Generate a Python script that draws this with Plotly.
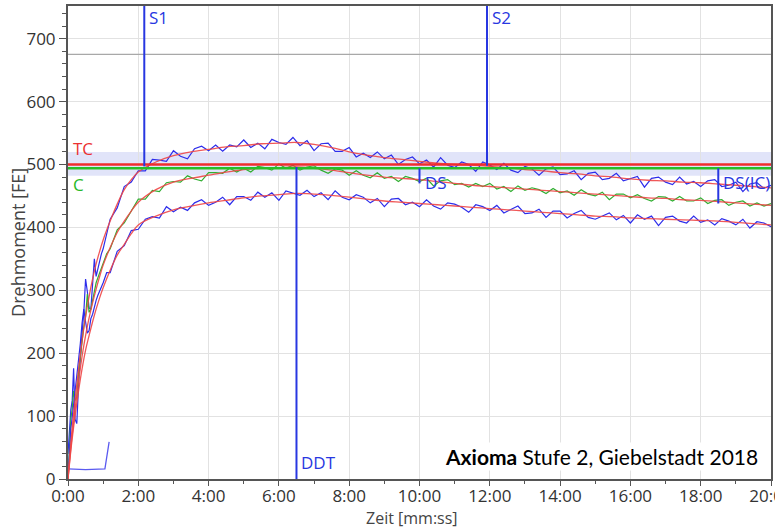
import plotly.graph_objects as go

# ---------------- data (minutes / FE) ----------------
t_early = [0, 0.04, 0.08, 0.12, 0.16, 0.2, 0.25, 0.3, 0.35, 0.4, 0.45, 0.5,
           0.55, 0.6, 0.65, 0.7, 0.75, 0.8, 0.85, 0.9, 0.95, 1.0, 1.1]
t_main = [round(1.2 + 0.2 * i, 1) for i in range(95)]          # 1.2 ... 20.0
t_noisy = t_early + t_main

upper_early = [40, 75, 110, 125, 176, 95, 88, 150, 200, 232, 265, 318,
               298, 272, 270, 308, 350, 322, 335, 346, 358, 366, 390]
upper_main = [413, 431, 465, 472, 490, 490, 508, 507, 505, 522,
              513, 509, 525, 529, 522, 531, 521, 531, 528, 539,
              527, 534, 525, 540, 535, 532, 543, 530, 538, 522,
              533, 534, 521, 521, 527, 512, 518, 511, 520, 509,
              515, 500, 508, 512, 501, 507, 496, 511, 499, 495,
              504, 500, 489, 504, 499, 492, 502, 491, 487, 497,
              493, 483, 493, 496, 484, 485, 490, 476, 486, 488,
              476, 478, 486, 474, 478, 481, 464, 478, 480, 472,
              468, 480, 469, 473, 465, 474, 476, 465, 467, 472,
              457, 469, 471, 462, 467]

middle_early = [0, 55, 95, 112, 140, 125, 130, 168, 198, 218, 242, 258,
                294, 265, 270, 285, 302, 312, 320, 328, 336, 344, 358]
middle_main = [366, 396, 407, 427, 445, 445, 459, 457, 471, 473,
               472, 482, 477, 474, 487, 487, 486, 494, 488, 494,
               488, 497, 495, 491, 501, 494, 499, 491, 496, 498,
               491, 486, 493, 491, 483, 490, 483, 479, 487, 478,
               481, 473, 481, 478, 473, 478, 466, 474, 476, 468,
               470, 464, 470, 465, 470, 461, 465, 457, 466, 459,
               463, 460, 454, 462, 455, 458, 451, 460, 453, 450,
               456, 444, 453, 453, 447, 452, 446, 442, 449, 448,
               442, 449, 442, 442, 447, 438, 443, 444, 435, 440,
               442, 434, 439, 434, 438]

lower_early = [0, 45, 80, 98, 118, 138, 160, 186, 215, 248, 270, 250,
               232, 236, 255, 262, 276, 284, 292, 298, 305, 312, 328]
lower_main = [328, 362, 371, 395, 397, 413, 417, 415, 433, 425,
              432, 427, 439, 444, 435, 440, 448, 436, 449, 449,
              443, 456, 448, 455, 443, 458, 455, 451, 459, 449,
              455, 444, 458, 448, 444, 452, 448, 439, 446, 433,
              445, 446, 436, 440, 433, 444, 434, 429, 439, 437,
              432, 424, 436, 433, 427, 435, 423, 428, 434, 422,
              423, 429, 416, 426, 426, 415, 422, 427, 416, 413,
              418, 423, 412, 419, 407, 420, 413, 418, 403, 416,
              418, 410, 407, 418, 408, 412, 404, 414, 410, 404,
              413, 399, 409, 407, 401]

t_smooth = [0, 0.1, 0.2, 0.3, 0.4, 0.5, 0.6, 0.7, 0.8, 0.9, 1.0, 1.2, 1.4,
            1.6, 1.8, 2.0] + [2.5 + 0.5 * i for i in range(36)]
upper_smooth = [0, 70, 125, 175, 220, 258, 290, 318, 342, 362, 380, 410, 437,
                460, 476, 488,
                504, 514, 520, 524, 528, 530, 533, 534, 535, 532, 527, 520,
                515, 511, 508, 505, 502, 500, 499, 497, 495, 492, 490, 487,
                485, 482, 480, 477, 475, 474, 472, 471, 469, 467, 465, 463]
middle_smooth = [0, 60, 110, 155, 195, 228, 256, 280, 302, 322, 340, 368, 392,
                 410, 426, 440,
                 460, 472, 478, 483, 488, 492, 494, 495, 496, 494, 491, 487,
                 483, 480, 478, 476, 473, 470, 467, 465, 463, 461, 459, 457,
                 455, 453, 451, 449, 447, 446, 444, 443, 441, 439, 437, 435]
lower_smooth = [0, 55, 100, 140, 175, 205, 228, 250, 270, 288, 304, 332, 356,
                373, 390, 404,
                418, 428, 434, 439, 443, 447, 450, 452, 454, 453, 451, 448,
                445, 442, 440, 438, 436, 434, 432, 430, 428, 426, 424, 422,
                420, 418, 417, 415, 414, 413, 412, 411, 410, 408, 406, 404]

speed_t = [0, 0.5, 1.05, 1.17]
speed_v = [16, 15, 16, 59]

ref_t = [0, 20]
ref_v = [675, 675]

TC_value = 500
C_value = 494
band_low, band_high = 482, 520

marker_names = ["S1", "S2", "DS", "DS(IC)", "DDT"]
marker_times = [2.17, 11.92, 10.0, 18.5, 6.5]
marker_top = [760, 760, 494, 494, 496]
marker_bottom = [497, 498, 470, 438, 0]

x_tick_vals = [0, 2, 4, 6, 8, 10, 12, 14, 16, 18, 20]
x_tick_text = ["0:00", "2:00", "4:00", "6:00", "8:00", "10:00", "12:00",
               "14:00", "16:00", "18:00", "20:00"]
y_tick_vals = [0, 100, 200, 300, 400, 500, 600, 700]

# ---------------- figure ----------------
BLUE = "rgb(45,45,235)"
RED = "rgba(238,70,70,0.9)"
GREEN = "rgb(50,175,50)"
MARK = "rgb(40,55,225)"
FONT = "Open Sans"

fig = go.Figure()

fig.add_trace(go.Scatter(x=ref_t, y=ref_v, mode="lines",
                         line=dict(color="#a8a8a8", width=1.2)))
fig.add_trace(go.Scatter(x=speed_t, y=speed_v, mode="lines",
                         line=dict(color="rgb(90,90,240)", width=1.3)))

for vals_e, vals_m, col in [(upper_early, upper_main, BLUE),
                            (middle_early, middle_main, GREEN),
                            (lower_early, lower_main, BLUE)]:
    fig.add_trace(go.Scatter(x=t_noisy, y=vals_e + vals_m, mode="lines",
                             line=dict(color=col, width=1.2)))

for vals in [upper_smooth, middle_smooth, lower_smooth]:
    fig.add_trace(go.Scatter(x=t_smooth, y=vals, mode="lines",
                             line=dict(color=RED, width=1.3, shape="spline")))

fig.add_trace(go.Scatter(x=[0, 20], y=[TC_value, TC_value], mode="lines",
                         line=dict(color="rgb(240,45,45)", width=2.5)))
fig.add_trace(go.Scatter(x=[0, 20], y=[C_value, C_value], mode="lines",
                         line=dict(color="rgb(40,190,40)", width=2.5)))

for name, t, top, bot in zip(marker_names, marker_times, marker_top, marker_bottom):
    fig.add_trace(go.Scatter(x=[t, t], y=[top, bot], mode="lines",
                             line=dict(color=MARK, width=2)))

label_pos = {"S1": 734, "S2": 734, "DS": 472, "DS(IC)": 472, "DDT": 27}
annotations = []
for name, t in zip(marker_names, marker_times):
    annotations.append(dict(x=t, y=label_pos[name], xref="x", yref="y",
                            text=name, showarrow=False, xanchor="left",
                            yanchor="middle", xshift=3,
                            font=dict(family=FONT, size=17, color=MARK)))
annotations.append(dict(x=0, y=526, xref="x", yref="y", text="TC",
                        showarrow=False, xanchor="left", yanchor="middle",
                        xshift=3, font=dict(family=FONT, size=17,
                                            color="rgb(235,50,50)")))
annotations.append(dict(x=0, y=469, xref="x", yref="y", text="C",
                        showarrow=False, xanchor="left", yanchor="middle",
                        xshift=3, font=dict(family=FONT, size=17,
                                            color="rgb(40,185,40)")))
annotations.append(dict(x=0.984, y=0.047, xref="paper", yref="paper",
                        text="<b>Axioma</b> Stufe 2, Giebelstadt 2018",
                        showarrow=False, xanchor="right", yanchor="middle",
                        bgcolor="white",
                        font=dict(family="Lato", size=21, color="black")))
# axis titles
annotations.append(dict(x=-0.072, y=0.5, xref="paper", yref="paper",
                        text="Drehmoment [FE]", textangle=-90,
                        showarrow=False, xanchor="center", yanchor="middle",
                        font=dict(family=FONT, size=18, color="#444")))
annotations.append(dict(x=0.489, y=-0.083, xref="paper", yref="paper",
                        text="Zeit [mm:ss]", showarrow=False,
                        xanchor="center", yanchor="middle",
                        font=dict(family=FONT, size=16, color="#444")))

fig.update_layout(
    width=775, height=531,
    margin=dict(l=68, r=4, t=6, b=52, autoexpand=False),
    paper_bgcolor="white", plot_bgcolor="white",
    showlegend=False,
    annotations=annotations,
    shapes=[dict(type="rect", xref="paper", yref="y", x0=0, x1=1,
                 y0=band_low, y1=band_high, fillcolor="rgba(205,210,245,0.6)",
                 line=dict(width=0), layer="below")],
    font=dict(family=FONT, size=17, color="#333"),
)

fig.update_xaxes(
    range=[0, 20], tickvals=x_tick_vals, ticktext=x_tick_text,
    automargin=False, ticklabeloverflow="allow",
    showgrid=True, gridcolor="#e2e2e2", gridwidth=1,
    showline=True, linecolor="#555", linewidth=2, mirror=True,
    ticks="outside", ticklen=5, tickcolor="#555", tickwidth=1,
    ticklabelstandoff=-4,
    minor=dict(dtick=1, ticks="outside", ticklen=3, tickcolor="#555",
               showgrid=False),
    tickfont=dict(family=FONT, size=17, color="#333"),
    zeroline=False,
)
fig.update_yaxes(
    range=[0, 752], tickvals=y_tick_vals,
    automargin=False,
    showgrid=True, gridcolor="#e2e2e2", gridwidth=1,
    showline=True, linecolor="#555", linewidth=2, mirror=True,
    ticks="outside", ticklen=7, tickcolor="#555", tickwidth=1,
    minor=dict(dtick=20, tick0=0, ticks="outside", ticklen=4,
               tickcolor="#555", showgrid=False),
    tickfont=dict(family=FONT, size=17, color="#333"),
    zeroline=False,
)

fig.write_html("out.html",
               config={"displayModeBar": False},
               post_script="document.body.style.margin='0';"
                           "document.body.style.overflow='hidden';")
